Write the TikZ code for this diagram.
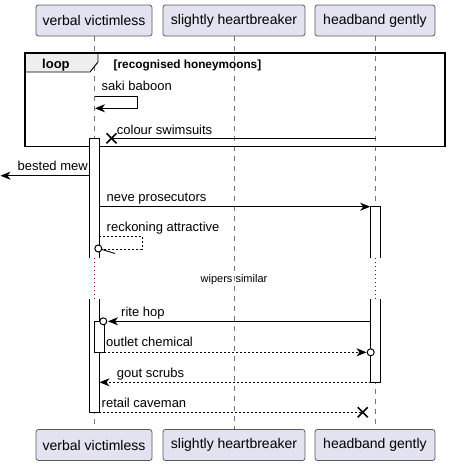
\documentclass[tikz,border=0pt]{standalone}
\usepackage{fontspec}
\setmainfont{Liberation Sans}
\usetikzlibrary{arrows.meta,calc}
\definecolor{partfill}{HTML}{E2E2F0}
\definecolor{partdraw}{HTML}{5A5A5A}
\definecolor{tabfill}{HTML}{EEEEEE}
\definecolor{delayred}{HTML}{8C0040}
\definecolor{lifegray}{HTML}{777777}
\tikzset{
  part/.style={draw=partdraw, fill=partfill, rounded corners=2.5pt, line width=0.8pt,
    minimum height=31pt, inner sep=0pt, font=\fontsize{14}{16}\selectfont},
  life/.style={draw=lifegray, line width=0.8pt, dash pattern=on 5pt off 5pt},
  delay/.style={draw=delayred, line width=1pt, dash pattern=on 1pt off 3pt},
  actbox/.style={draw=black, fill=white, line width=0.9pt},
  msg/.style={line width=0.9pt, -{Stealth[length=10pt,width=8pt,inset=3pt]}},
  dmsg/.style={line width=0.9pt, dash pattern=on 2pt off 2pt, -{Stealth[length=10pt,width=8pt,inset=3pt]}},
  lbl/.style={anchor=base west, inner sep=0pt, font=\fontsize{13}{15}\selectfont},
  circ/.style={draw=black, fill=white, line width=1pt},
}
\begin{document}
\begin{tikzpicture}[x=1pt,y=-1pt]
\useasboundingbox (0,0) rectangle (450,466);
% lifelines
\draw[life] (94,36) -- (94,258);
\draw[life] (94,299) -- (94,429);
\draw[life] (234,36) -- (234,429);
\draw[life] (375.5,36) -- (375.5,258);
\draw[life] (375.5,299) -- (375.5,429);
\draw[delay] (94,258) -- (94,299);
\draw[delay] (375.5,258) -- (375.5,299);
% participants
\node[part, minimum width=116pt] (pa) at (94,20.5) {verbal victimless};
\node[part, minimum width=142pt] (pb) at (234,20.5) {slightly heartbreaker};
\node[part, minimum width=120pt] (pc) at (375,20.5) {headband gently};
\node[part, minimum width=116pt] (pa2) at (94,445) {verbal victimless};
\node[part, minimum width=142pt] (pb2) at (234,445) {slightly heartbreaker};
\node[part, minimum width=120pt] (pc2) at (375,445) {headband gently};
% loop frame
\draw[fill=tabfill, line width=0.9pt] (25,53) -- (98,53) -- (98,62) -- (90,72) -- (25,72) -- cycle;
\draw[line width=1.5pt] (25,53) rectangle (445,146.5);
\node[lbl, font=\bfseries\fontsize{13}{15}\selectfont] (looplbl) at (42,68.3) {loop};
\node[lbl, font=\bfseries\fontsize{11.8}{13}\selectfont] (cond) at (113.5,68) {[recognised honeymoons]};
% saki baboon
\node[lbl] (t1) at (101.5,90.7) {saki baboon};
\coordinate (s1a) at (94.5,96);
\coordinate (s1b) at (95,108.3);
\draw[msg] (s1a) -- (137,96) -- (137,108.3) -- (s1b);
% activations
\draw[actbox] (99,258) -- (99,138) -- (89,138) -- (89,258);
\fill[white] (89.5,139) rectangle (98.5,258);
\draw[actbox] (89,299) -- (89,412) -- (99,412) -- (99,299);
\fill[white] (89.5,299) rectangle (98.5,411.5);
\draw[actbox] (380.7,258) -- (380.7,206.7) -- (370.7,206.7) -- (370.7,258);
\fill[white] (371.2,207.2) rectangle (380.2,258);
\draw[actbox] (370.7,299) -- (370.7,382.3) -- (380.7,382.3) -- (380.7,299);
\fill[white] (371.2,299) rectangle (380.2,381.8);
\draw[actbox] (94.3,321.3) rectangle (104.3,352.3);
% colour swimsuits
\node[lbl] (t2) at (116.7,134) {colour swimsuits};
\coordinate (x1) at (111.5,138.3);
\draw[line width=0.9pt] (375.5,138.3) -- (x1);
\draw[line width=1.6pt] ($(x1)+(-5,-5)$) -- ($(x1)+(5,5)$) ($(x1)+(-5,5)$) -- ($(x1)+(5,-5)$);
% bested mew
\node[lbl] (t3) at (17.5,170.3) {bested mew};
\draw[msg] (89,175.7) -- (0.5,175.7);
% neve prosecutors
\node[lbl] (t4) at (106.5,201.7) {neve prosecutors};
\draw[msg] (99,206.7) -- (370.2,206.7);
% reckoning attractive
\node[lbl] (t5) at (106.5,231.7) {reckoning attractive};
\draw[line width=0.9pt, dash pattern=on 2pt off 2pt] (99,236) -- (142,236) -- (142,249.3) -- (102,249.3);
\draw[line width=0.9pt] (101.5,249.3) -- (115,253.5);
\draw[circ] (98.3,248.5) circle (3.5);
% delay text
\node[anchor=base, inner sep=0pt, font=\fontsize{11}{13}\selectfont] (dl) at (234,282.3) {wipers similar};
% rite hop
\node[lbl] (t6) at (121,316.7) {rite hop};
\draw[msg] (370.7,321.3) -- (108,321.3);
\draw[circ] (103.3,321.3) circle (3.5);
% outlet chemical
\node[lbl] (t7) at (106,346.7) {outlet chemical};
\draw[dmsg] (104.3,352.3) -- (366.5,352.3);
\draw[circ] (370.7,352.3) circle (3.5);
% gout scrubs
\node[lbl] (t8) at (116.7,377.3) {gout scrubs};
\draw[dmsg] (370.7,382.3) -- (99.5,382.3);
% retail caveman
\node[lbl] (t9) at (101.5,407.3) {retail caveman};
\coordinate (x2) at (362.7,412.3);
\draw[line width=0.9pt, dash pattern=on 2pt off 2pt] (99,412.3) -- (x2);
\draw[line width=1.6pt] ($(x2)+(-5,-5)$) -- ($(x2)+(5,5)$) ($(x2)+(-5,5)$) -- ($(x2)+(5,-5)$);
\end{tikzpicture}
\end{document}
